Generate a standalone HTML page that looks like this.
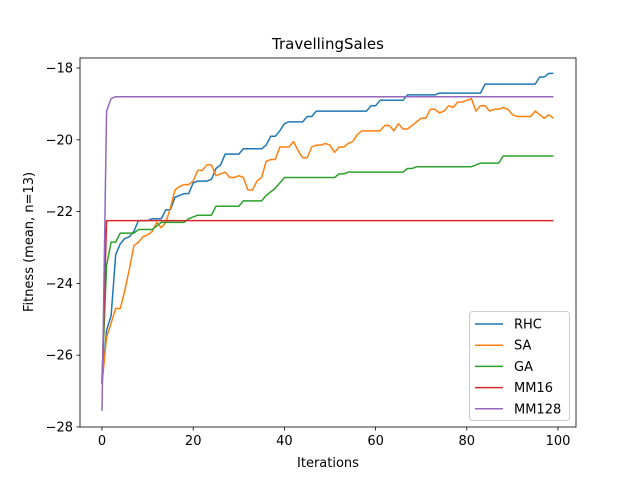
<!DOCTYPE html>
<html><head><meta charset="utf-8"><style>
body{margin:0;background:#fff;}
svg{display:block;font-family:"DejaVu Sans","Liberation Sans",sans-serif;}
</style></head><body>
<svg id="chart" width="640" height="480">
<rect x="0" y="0" width="640" height="480" fill="#fff"/>
<text x="328" y="49" font-size="15" text-anchor="middle">TravellingSales</text>
<g id="plot"></g>
<text x="328" y="467" font-size="13" text-anchor="middle">Iterations</text>
<text transform="translate(33,242) rotate(-90)" font-size="13" text-anchor="middle">Fitness (mean, n=13)</text>
</svg>
<script>
const xTicks=[0,20,40,60,80,100];
const yTicks=[-18,-20,-22,-24,-26,-28];
const seriesNames=["RHC","SA","GA","MM16","MM128"];
const seriesColors=["#1f77b4","#ff7f0e","#2ca02c","#d62728","#9467bd"];
const rhc=[-26.8,-25.3,-24.9,-23.2,-22.9,-22.75,-22.7,-22.55,-22.25,-22.25,-22.25,-22.2,-22.2,-22.2,-21.95,-21.95,-21.6,-21.55,-21.5,-21.5,-21.2,-21.15,-21.15,-21.15,-21.1,-20.8,-20.7,-20.4,-20.4,-20.4,-20.4,-20.25,-20.25,-20.25,-20.25,-20.25,-20.15,-19.9,-19.9,-19.75,-19.55,-19.5,-19.5,-19.5,-19.5,-19.35,-19.35,-19.2,-19.2,-19.2,-19.2,-19.2,-19.2,-19.2,-19.2,-19.2,-19.2,-19.2,-19.2,-19.05,-19.05,-18.9,-18.9,-18.9,-18.9,-18.9,-18.9,-18.75,-18.75,-18.75,-18.75,-18.75,-18.75,-18.75,-18.7,-18.7,-18.7,-18.7,-18.7,-18.7,-18.7,-18.7,-18.7,-18.7,-18.45,-18.45,-18.45,-18.45,-18.45,-18.45,-18.45,-18.45,-18.45,-18.45,-18.45,-18.45,-18.25,-18.25,-18.15,-18.15];
const sa=[-26.8,-25.5,-25.1,-24.7,-24.7,-24.2,-23.6,-22.95,-22.85,-22.7,-22.65,-22.55,-22.3,-22.45,-22.3,-21.9,-21.4,-21.3,-21.25,-21.25,-21.15,-20.85,-20.85,-20.7,-20.7,-21.0,-20.95,-20.9,-21.05,-21.05,-21.0,-21.05,-21.4,-21.4,-21.15,-21.05,-20.6,-20.55,-20.55,-20.2,-20.2,-20.2,-20.05,-20.3,-20.5,-20.5,-20.2,-20.15,-20.15,-20.1,-20.15,-20.35,-20.2,-20.2,-20.1,-20.05,-19.85,-19.75,-19.75,-19.75,-19.75,-19.75,-19.6,-19.6,-19.75,-19.55,-19.7,-19.7,-19.6,-19.5,-19.4,-19.4,-19.15,-19.15,-19.25,-19.2,-19.05,-19.1,-18.95,-18.95,-18.9,-18.85,-19.2,-19.05,-19.05,-19.2,-19.15,-19.15,-19.1,-19.15,-19.3,-19.35,-19.35,-19.35,-19.35,-19.2,-19.3,-19.4,-19.3,-19.4];
const ga=[-26.7,-23.5,-22.85,-22.85,-22.6,-22.6,-22.6,-22.6,-22.5,-22.5,-22.5,-22.5,-22.4,-22.3,-22.3,-22.3,-22.3,-22.3,-22.3,-22.2,-22.15,-22.1,-22.1,-22.1,-22.1,-21.85,-21.85,-21.85,-21.85,-21.85,-21.85,-21.7,-21.7,-21.7,-21.7,-21.7,-21.55,-21.45,-21.35,-21.2,-21.05,-21.05,-21.05,-21.05,-21.05,-21.05,-21.05,-21.05,-21.05,-21.05,-21.05,-21.05,-20.95,-20.95,-20.9,-20.9,-20.9,-20.9,-20.9,-20.9,-20.9,-20.9,-20.9,-20.9,-20.9,-20.9,-20.9,-20.8,-20.8,-20.75,-20.75,-20.75,-20.75,-20.75,-20.75,-20.75,-20.75,-20.75,-20.75,-20.75,-20.75,-20.75,-20.7,-20.65,-20.65,-20.65,-20.65,-20.65,-20.45,-20.45,-20.45,-20.45,-20.45,-20.45,-20.45,-20.45,-20.45,-20.45,-20.45,-20.45];
const mm16=[-26.8,-22.25,-22.25,-22.25,-22.25,-22.25,-22.25,-22.25,-22.25,-22.25,-22.25,-22.25,-22.25,-22.25,-22.25,-22.25,-22.25,-22.25,-22.25,-22.25,-22.25,-22.25,-22.25,-22.25,-22.25,-22.25,-22.25,-22.25,-22.25,-22.25,-22.25,-22.25,-22.25,-22.25,-22.25,-22.25,-22.25,-22.25,-22.25,-22.25,-22.25,-22.25,-22.25,-22.25,-22.25,-22.25,-22.25,-22.25,-22.25,-22.25,-22.25,-22.25,-22.25,-22.25,-22.25,-22.25,-22.25,-22.25,-22.25,-22.25,-22.25,-22.25,-22.25,-22.25,-22.25,-22.25,-22.25,-22.25,-22.25,-22.25,-22.25,-22.25,-22.25,-22.25,-22.25,-22.25,-22.25,-22.25,-22.25,-22.25,-22.25,-22.25,-22.25,-22.25,-22.25,-22.25,-22.25,-22.25,-22.25,-22.25,-22.25,-22.25,-22.25,-22.25,-22.25,-22.25,-22.25,-22.25,-22.25,-22.25];
const mm128=[-27.55,-19.2,-18.85,-18.8,-18.8,-18.8,-18.8,-18.8,-18.8,-18.8,-18.8,-18.8,-18.8,-18.8,-18.8,-18.8,-18.8,-18.8,-18.8,-18.8,-18.8,-18.8,-18.8,-18.8,-18.8,-18.8,-18.8,-18.8,-18.8,-18.8,-18.8,-18.8,-18.8,-18.8,-18.8,-18.8,-18.8,-18.8,-18.8,-18.8,-18.8,-18.8,-18.8,-18.8,-18.8,-18.8,-18.8,-18.8,-18.8,-18.8,-18.8,-18.8,-18.8,-18.8,-18.8,-18.8,-18.8,-18.8,-18.8,-18.8,-18.8,-18.8,-18.8,-18.8,-18.8,-18.8,-18.8,-18.8,-18.8,-18.8,-18.8,-18.8,-18.8,-18.8,-18.8,-18.8,-18.8,-18.8,-18.8,-18.8,-18.8,-18.8,-18.8,-18.8,-18.8,-18.8,-18.8,-18.8,-18.8,-18.8,-18.8,-18.8,-18.8,-18.8,-18.8,-18.8,-18.8,-18.8,-18.8,-18.8];
const allSeries=[rhc,sa,ga,mm16,mm128];

const NS="http://www.w3.org/2000/svg";
const L=80,R=576,T=58,B=427;
const x=v=>102+v*4.56;
const y=v=>68+(-18-v)*35.9;
const plot=document.getElementById('plot');
function mk(tag,attrs,parent){const e=document.createElementNS(NS,tag);for(const k in attrs)e.setAttribute(k,attrs[k]);(parent||plot).appendChild(e);return e;}

xTicks.forEach(t=>{
  const tk=mk('line',{x1:x(t),x2:x(t),y1:B,y2:B+3.5,stroke:'#000','stroke-width':0.8});
  
  
  const lb=mk('text',{x:x(t),y:B+18,'font-size':13,'text-anchor':'middle'});
  lb.textContent=String(t);
  
  
});
yTicks.forEach(t=>{
  const tk=mk('line',{x1:L-3.5,x2:L,y1:y(t),y2:y(t),stroke:'#000','stroke-width':0.8});
  
  
  const lb=mk('text',{x:L-7,y:y(t)+4.5,'font-size':13,'text-anchor':'end'});
  lb.textContent=String(t).replace('-','\u2212');
  
  
});

allSeries.forEach((s,i)=>{
  const pts=s.map((v,j)=>x(j).toFixed(2)+','+y(v).toFixed(2)).join(' ');
  const pl=mk('polyline',{points:pts,fill:'none',stroke:seriesColors[i],'stroke-width':1.5,'stroke-linejoin':'round'});
  
  
});

const frame=mk('rect',{x:L,y:T,width:R-L,height:B-T,fill:'none',stroke:'#000','stroke-width':0.8});



const lg=mk('g',{});


mk('rect',{x:469.5,y:311.5,width:100,height:109,rx:3,fill:'#fff','fill-opacity':0.8,stroke:'#ccc','stroke-width':1},lg);
seriesNames.forEach((n,i)=>{
  const yy=324+i*21.2;
  const ln=mk('line',{x1:475,x2:503,y1:yy,y2:yy,stroke:seriesColors[i],'stroke-width':1.5},lg);
  
  
  const tx=mk('text',{x:514,y:yy+4.5,'font-size':13},lg);
  tx.textContent=n;
  
  
});
</script>
</body></html>
